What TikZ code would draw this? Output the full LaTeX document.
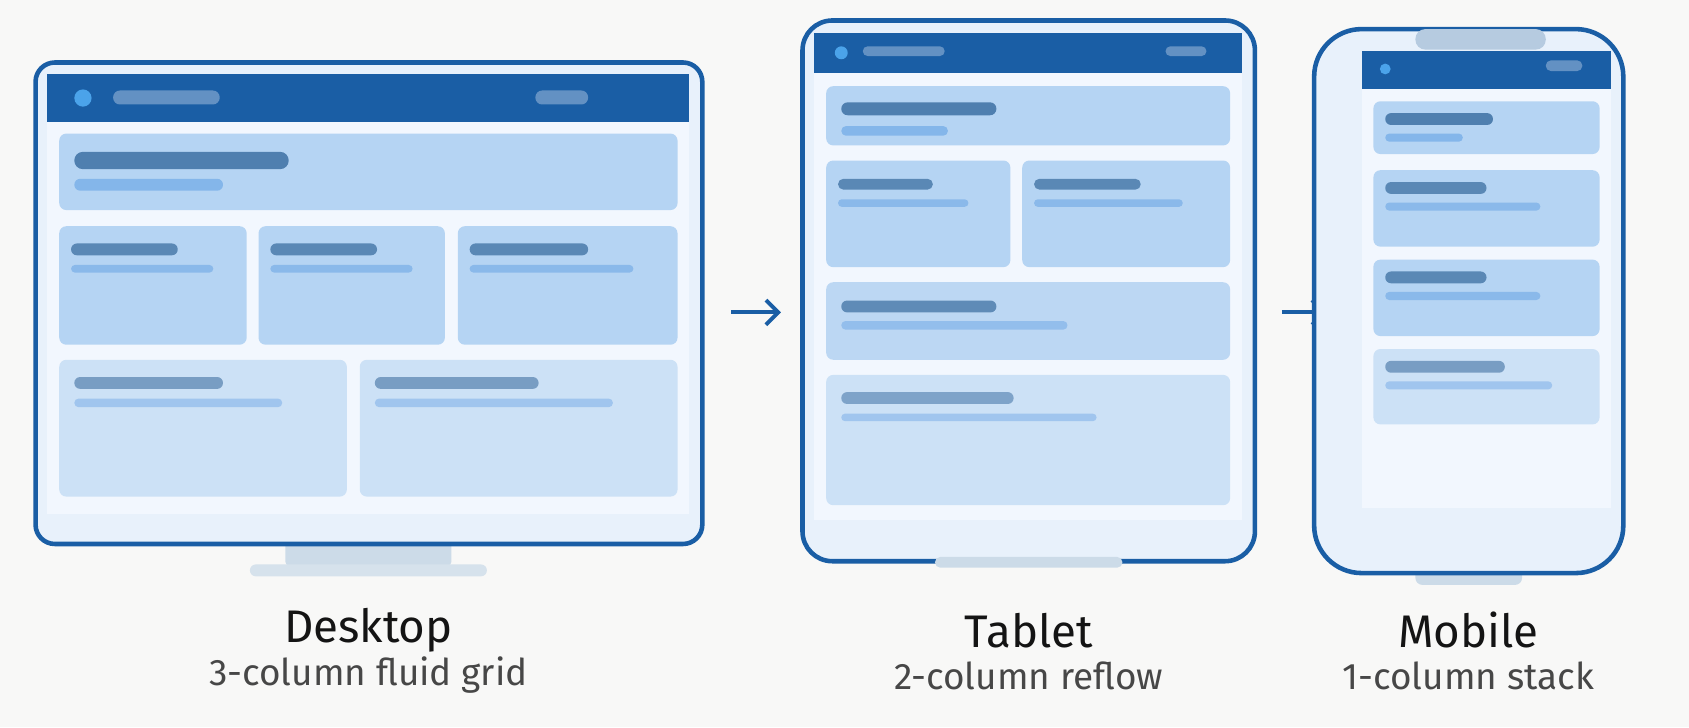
\documentclass[tikz,border=0pt]{standalone}
\usepackage{fontspec}
\setmainfont{Fira Sans}
\usetikzlibrary{arrows.meta}
\definecolor{bgc}{HTML}{F8F8F7}
\definecolor{frame}{HTML}{1A5EA5}
\definecolor{body}{HTML}{E8F1FB}
\definecolor{screen}{HTML}{F2F7FE}
\definecolor{cardA}{HTML}{B5D4F3}
\definecolor{cardB}{HTML}{CCE1F6}
\definecolor{cardM}{HTML}{BCD7F3}
\definecolor{ttlA}{HTML}{4F7FAF}
\definecolor{ttlB}{HTML}{5A88B5}
\definecolor{ttlC}{HTML}{789DC3}
\definecolor{subA}{HTML}{84B6EA}
\definecolor{subB}{HTML}{8AB9EA}
\definecolor{subC}{HTML}{A0C5EE}
\definecolor{dotc}{HTML}{4BA3EA}
\definecolor{navbar}{HTML}{6391C3}
\definecolor{stand}{HTML}{CCDBE8}
\definecolor{standb}{HTML}{D6E2EC}
\definecolor{notch}{HTML}{B6CBE0}
\tikzset{
  device/.style={draw=frame, line width=1.3pt, fill=body},
  card/.style={rounded corners=2pt},
  title/.style={font=\fontsize{13}{15}\selectfont, text=black!92},
  caption/.style={font=\fontsize{10.5}{12}\selectfont, text=black!72},
  flow/.style={draw=frame, line width=1.1pt, -{Straight Barb[length=3.5pt,width=7pt]}},
}
% rounded placeholder line: x1,y1,x2,y2,colour
\newcommand{\pill}[5]{%
  \pgfmathsetmacro{\prad}{((#4)-(#2))*0.15}%
  \fill[#5, rounded corners=\prad pt] (#1,#2) rectangle (#3,#4);}
\begin{document}
\begin{tikzpicture}[x=0.010772cm, y=-0.010772cm]
\fill[bgc] (0,0) rectangle (1568,675);
\useasboundingbox (0,0) rectangle (1568,675);

% desktop
\fill[stand, rounded corners=1pt] (265,500) rectangle (419,525);
\pill{232}{524}{452}{535}{standb}
\path[device, rounded corners=5.5pt] (33,58) rectangle (652,505);
\fill[screen] (44,69) rectangle (640,477);
\fill[frame] (44,69) rectangle (640,113);
\fill[dotc] (77,91) circle (8);
\pill{105}{84}{204}{97}{navbar}
\pill{497}{84}{546}{97}{navbar}
\fill[cardA, card] (55,124) rectangle (629,195);
\pill{69}{141}{268}{157}{ttlA}
\pill{69}{166}{207}{177}{subA}
\foreach \xa/\xb/\tb/\sb in {55/229/165/198, 240/413/350/383, 425/629/546/588}{
  \fill[cardA, card] (\xa,210) rectangle (\xb,320);
  \pill{\xa+11}{226}{\tb}{237}{ttlB}
  \pill{\xa+11}{246}{\sb}{253}{subB}
}
\foreach \xa/\xb/\tb/\sb in {55/322/207/262, 334/629/500/569}{
  \fill[cardB, card] (\xa,334) rectangle (\xb,461);
  \pill{\xa+14}{350}{\tb}{361}{ttlC}
  \pill{\xa+14}{370}{\sb}{378}{subC}
}
\node[title] (desk) at (342,585) {Desktop};
\node[caption] (deskc) at (342,627) {3-column fluid grid};

% desktop -> tablet
\coordinate (a1) at (679,290);
\coordinate (a2) at (725,290);
\draw[flow] (a1) -- (a2);

% tablet
\path[device, rounded corners=8.5pt] (745,19) rectangle (1165,521);
\fill[screen] (756,31) rectangle (1153,483);
\fill[frame] (756,31) rectangle (1153,68);
\fill[dotc] (781,49) circle (6);
\pill{801}{43}{877}{52}{navbar}
\pill{1082}{43}{1120}{52}{navbar}
\fill[cardA, card] (767,80) rectangle (1142,135);
\pill{781}{95}{925}{107}{ttlA}
\pill{781}{117}{880}{126}{subA}
\foreach \xa/\xb/\tb/\sb in {767/938/866/899, 949/1142/1059/1098}{
  \fill[cardA, card] (\xa,149) rectangle (\xb,248);
  \pill{\xa+11}{166}{\tb}{176}{ttlB}
  \pill{\xa+11}{185}{\sb}{192}{subB}
}
\fill[cardM, card] (767,262) rectangle (1142,334);
\pill{781}{279}{925}{290}{ttlB!85!ttlC}
\pill{781}{298}{991}{306}{subB!60!subC}
\fill[cardB, card] (767,348) rectangle (1142,469);
\pill{781}{364}{941}{375}{ttlC!85!subC}
\pill{781}{384}{1018}{391}{subC}
\pill{868}{517}{1042}{527}{stand}
\node[title] (tab) at (955,585) {Tablet};
\node[caption] (tabc) at (955,627) {2-column reflow};

% tablet -> mobile
\coordinate (b1) at (1190,290);
\coordinate (b2) at (1232,290);
\draw[flow] (b1) -- (b2);

% mobile
\fill[stand, rounded corners=2pt] (1314,525) rectangle (1413,543);
\path[device, rounded corners=13.5pt] (1220,27) rectangle (1507,532);
\fill[notch, rounded corners=2.8pt] (1314,27) rectangle (1435,46);
\fill[screen] (1264,47) rectangle (1496,472);
\fill[frame] (1264,47) rectangle (1496,83);
\fill[dotc] (1286,64) circle (5);
\pill{1435}{56}{1469}{66}{navbar}
\foreach \ya/\yb/\tb/\sb/\cc/\tc/\scol in {94/143/1386/1358/cardA/ttlA/subA, 158/229/1380/1430/cardA/ttlB/subB, 241/312/1380/1430/cardA/ttlB/subB, 324/394/1397/1441/cardB/ttlC/subC}{
  \fill[\cc, card] (1275,\ya) rectangle (1485,\yb);
  \pgfmathsetmacro{\ta}{\ya+11}
  \pgfmathsetmacro{\sa}{\ya+30}
  \pill{1286}{\ta}{\tb}{\ta+11}{\tc}
  \pill{1286}{\sa}{\sb}{\sa+7.5}{\scol}
}
\node[title] (mob) at (1363,585) {Mobile};
\node[caption] (mobc) at (1363,627) {1-column stack};
\end{tikzpicture}
\end{document}
